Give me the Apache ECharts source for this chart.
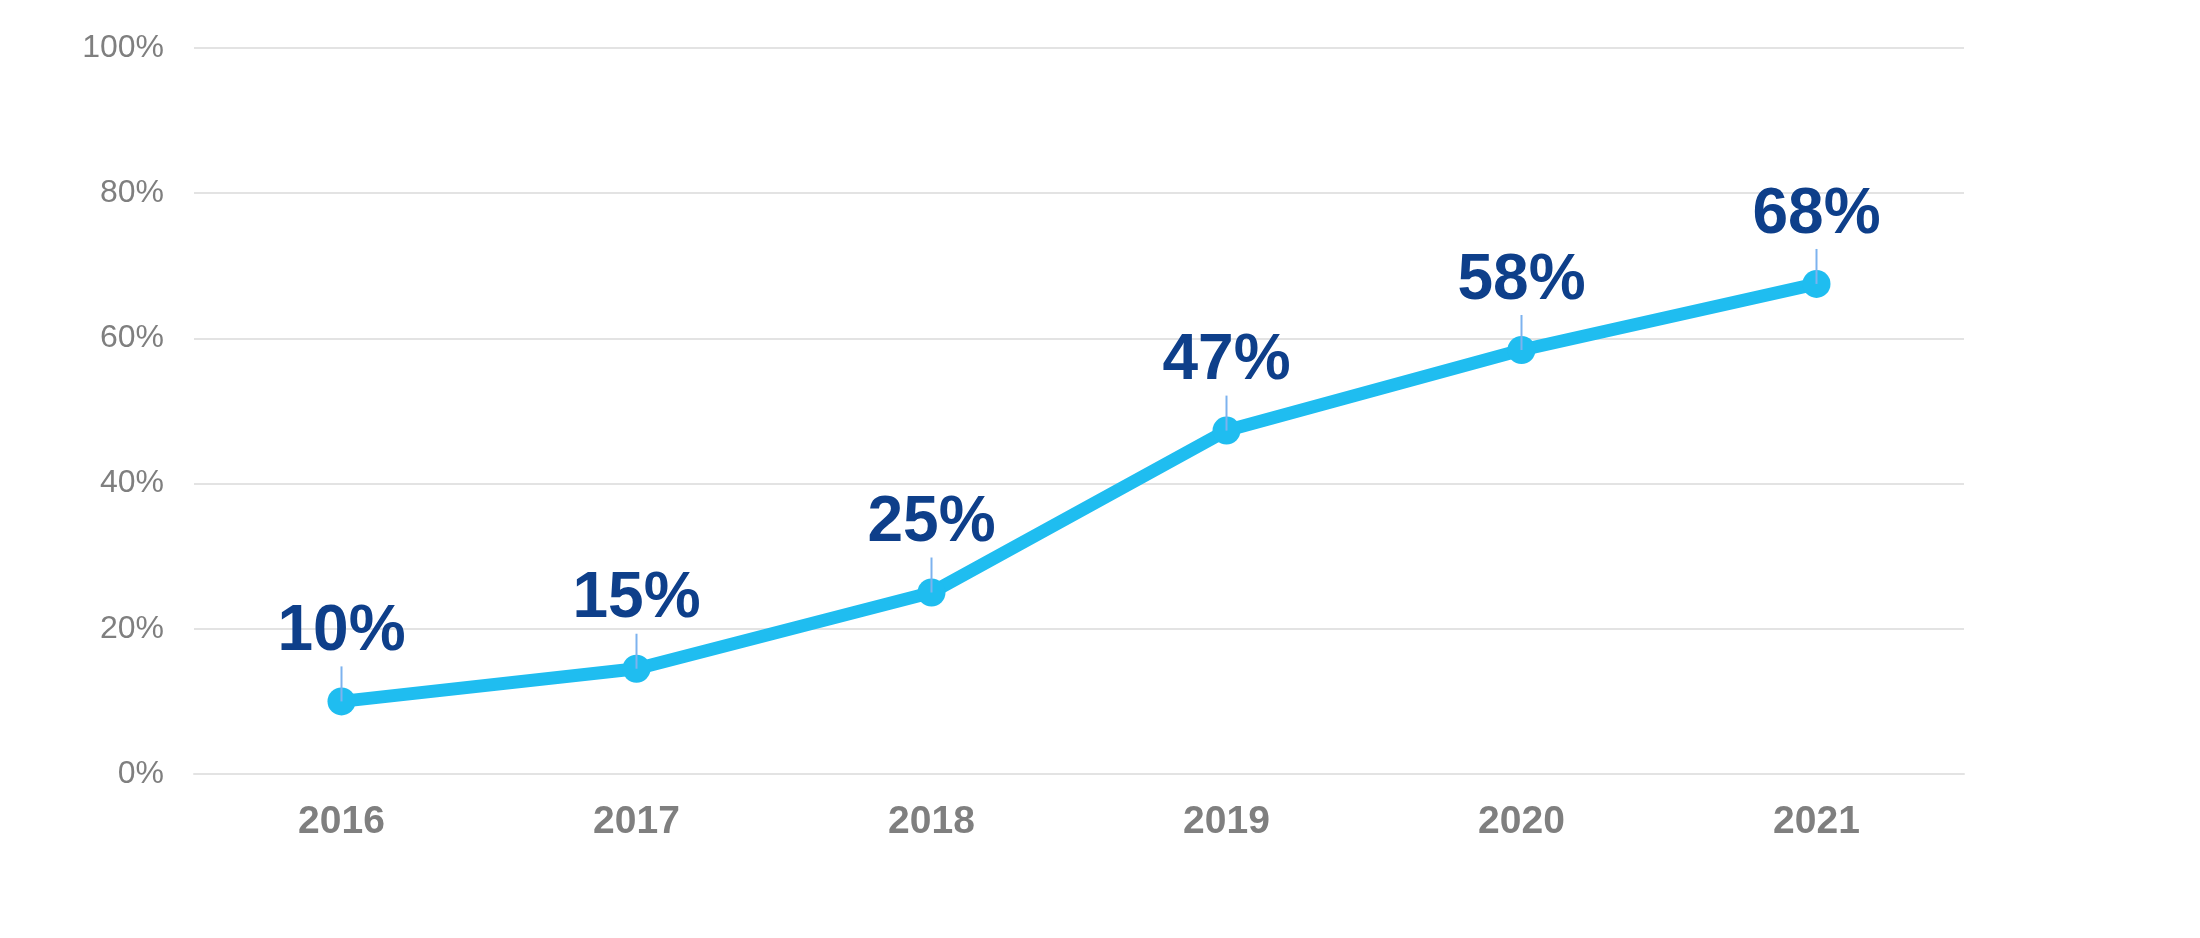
<!DOCTYPE html>
<html>
<head>
<meta charset="utf-8">
<script src="https://cdn.jsdelivr.net/npm/echarts@6/dist/echarts.min.js"></script>
<style>
html,body{margin:0;padding:0;background:#fff;}
#c{width:2200px;height:938px;}
</style>
</head>
<body>
<div id="c"></div>
<script>
const categories = ['2016', '2017', '2018', '2019', '2020', '2021'];
const values = [10, 14.5, 25, 47.3, 58.4, 67.5];
const valueLabels = ['10%', '15%', '25%', '47%', '58%', '68%'];
const yTicks = [0, 20, 40, 60, 80, 100];

const chart = echarts.init(document.getElementById('c'));
chart.setOption({
  backgroundColor: '#ffffff',
  animation: false,
  grid: { left: 194, right: 236, top: 48, bottom: 164 },
  xAxis: {
    type: 'category',
    data: categories,
    boundaryGap: true,
    axisLine: { show: true, lineStyle: { color: '#E3E3E3', width: 2 } },
    axisTick: { show: false },
    axisLabel: {
      color: '#7F7F7F', fontSize: 39, fontWeight: 'bold',
      fontFamily: 'Liberation Sans, Arial, sans-serif', margin: 29
    }
  },
  yAxis: {
    type: 'value',
    min: yTicks[0], max: yTicks[yTicks.length - 1], interval: 20,
    axisLine: { show: false },
    axisTick: { show: false },
    splitLine: { lineStyle: { color: '#E3E3E3', width: 2 } },
    axisLabel: {
      color: '#7F7F7F', fontSize: 32,
      fontFamily: 'Liberation Sans, Arial, sans-serif', margin: 30,
      formatter: v => v + '%'
    }
  },
  series: [
    {
      type: 'custom',
      z: 3,
      renderItem: function (params, api) {
        const p = api.coord([api.value(0), api.value(1)]);
        return {
          type: 'line',
          shape: { x1: p[0], y1: p[1], x2: p[0], y2: p[1] - 35 },
          style: { stroke: '#7DB2EE', lineWidth: 2 }
        };
      },
      data: values.map((v, i) => [i, v]),
      silent: true
    },
    {
      type: 'line',
      data: values,
      z: 2,
      symbol: 'circle',
      symbolSize: 28,
      lineStyle: { color: '#1FBDF0', width: 13 },
      itemStyle: { color: '#1FBDF0' },
      label: {
        show: true,
        position: 'top',
        distance: 23,
        color: '#0E3F8A',
        fontSize: 64,
        fontWeight: 'bold',
        fontFamily: 'Liberation Sans, Arial, sans-serif',
        formatter: p => valueLabels[p.dataIndex]
      }
    }
  ]
});
</script>
</body>
</html>
